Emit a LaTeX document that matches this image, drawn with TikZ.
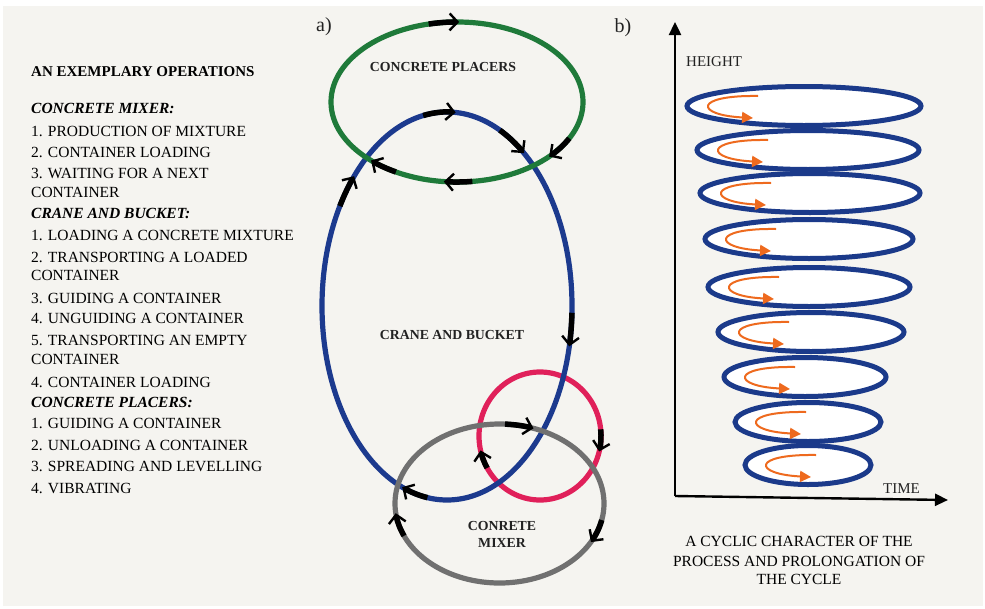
\documentclass[tikz,border=0pt]{standalone}
\usepackage{fontspec}
\setmainfont{Liberation Serif}
\usetikzlibrary{arrows.meta}
\definecolor{bgc}{HTML}{F5F4F0}
\definecolor{greenc}{HTML}{1F7A3A}
\definecolor{bluec}{HTML}{1C3A8E}
\definecolor{redc}{HTML}{E0205A}
\definecolor{grayc}{HTML}{707070}
\definecolor{orangec}{HTML}{EE6A1E}
\definecolor{navy}{HTML}{1B3A8A}
\definecolor{labc}{HTML}{222222}
\begin{document}
\begin{tikzpicture}[x=1pt,y=-1pt,
  listtxt/.style={anchor=base west, inner sep=0pt, font=\fontsize{15.5}{18}\selectfont, text=black},
  listhead/.style={listtxt, font=\fontsize{15.5}{18}\selectfont\bfseries\itshape},
  maintitle/.style={listtxt, font=\fontsize{15}{18}\selectfont\bfseries},
  difflab/.style={anchor=base, inner sep=0pt, font=\fontsize{13.8}{16}\selectfont\bfseries, text=labc},
  axlab/.style={anchor=base west, inner sep=0pt, font=\fontsize{15}{18}\selectfont, text=labc},
  captxt/.style={anchor=base, inner sep=0pt, font=\fontsize{15.5}{18}\selectfont, text=black},
  panel/.style={anchor=center, inner sep=0pt, font=\fontsize{20}{22}\selectfont, text=labc},
  ring/.style={line width=5.2pt},
  arrseg/.style={line width=5.5pt, black, -{Straight Barb[length=8pt,width=17pt,line width=2.4pt]}},
  axisline/.style={line width=2.4pt, black, -{Triangle[length=13pt,width=12pt]}},
  spir/.style={line width=5pt, draw=navy, fill=white},
  hook/.style={orangec, line width=2pt, -{Triangle[length=11pt,width=11pt]}}
]
\useasboundingbox (0,0) rectangle (985,608);
\fill[white] (0,0) rectangle (985,608);
\fill[bgc] (3,6) rectangle (983,606);

% ---------- left list ----------
\node[maintitle] (t0) at (31,76) {AN EXEMPLARY OPERATIONS};
\node[listhead] (h1) at (31,113) {CONCRETE MIXER:};
\node[listtxt] (l1) at (31,136) {1. PRODUCTION OF MIXTURE};
\node[listtxt] (l2) at (31,157) {2. CONTAINER LOADING};
\node[listtxt] (l3) at (31,178) {3. WAITING FOR A NEXT};
\node[listtxt] (l3b) at (31,197) {CONTAINER};
\node[listhead] (h2) at (31,218) {CRANE AND BUCKET:};
\node[listtxt] (l4) at (31,240) {1. LOADING A CONCRETE MIXTURE};
\node[listtxt] (l5) at (31,262) {2. TRANSPORTING A LOADED};
\node[listtxt] (l5b) at (31,280) {CONTAINER};
\node[listtxt] (l6) at (31,303) {3. GUIDING A CONTAINER};
\node[listtxt] (l7) at (31,323) {4. UNGUIDING A CONTAINER};
\node[listtxt] (l8) at (31,345) {5. TRANSPORTING AN EMPTY};
\node[listtxt] (l8b) at (31,364) {CONTAINER};
\node[listtxt] (l9) at (31,387) {4. CONTAINER LOADING};
\node[listhead] (h3) at (31,407) {CONCRETE PLACERS:};
\node[listtxt] (l10) at (31,428) {1. GUIDING A CONTAINER};
\node[listtxt] (l11) at (31,450) {2. UNLOADING A CONTAINER};
\node[listtxt] (l12) at (31,471) {3. SPREADING AND LEVELLING};
\node[listtxt] (l13) at (31,493) {4. VIBRATING};

% ---------- panel a ----------
\node[panel] (pa) at (324,27) {a)};
\draw[ring, redc] (540,436) ellipse[x radius=61, y radius=64];
\draw[ring, bluec] (447,306) ellipse[x radius=125, y radius=194];
\draw[ring, greenc] (457,102) ellipse[x radius=126, y radius=80];
\draw[ring, grayc] (499.5,503.5) ellipse[x radius=104.5, y radius=79.5];

% arrows on green
\draw[arrseg] (457,102) ++(257:126 and 80) arc[start angle=257, end angle=271, x radius=126, y radius=80];
\draw[arrseg] (457,102) ++(27:126 and 80) arc[start angle=27, end angle=43, x radius=126, y radius=80];
\draw[arrseg] (457,102) ++(83:126 and 80) arc[start angle=83, end angle=96, x radius=126, y radius=80];
\draw[arrseg] (457,102) ++(119:126 and 80) arc[start angle=119, end angle=133, x radius=126, y radius=80];
% arrows on blue
\draw[arrseg] (447,306) ++(259:125 and 194) arc[start angle=259, end angle=274, x radius=125, y radius=194];
\draw[arrseg] (447,306) ++(295:125 and 194) arc[start angle=295, end angle=308, x radius=125, y radius=194];
\draw[arrseg] (447,306) ++(2:125 and 194) arc[start angle=2, end angle=12, x radius=125, y radius=194];
\draw[arrseg] (447,306) ++(99:125 and 194) arc[start angle=99, end angle=111, x radius=125, y radius=194];
\draw[arrseg] (447,306) ++(211:125 and 194) arc[start angle=211, end angle=222, x radius=125, y radius=194];
% arrows on red
\draw[arrseg] (540,436) ++(-6:61 and 64) arc[start angle=-6, end angle=14, x radius=61, y radius=64];
\draw[arrseg] (540,436) ++(150:61 and 64) arc[start angle=150, end angle=167, x radius=61, y radius=64];
% arrows on gray
\draw[arrseg] (499.5,503.5) ++(273:104.5 and 79.5) arc[start angle=273, end angle=289, x radius=104.5, y radius=79.5];
\draw[arrseg] (499.5,503.5) ++(12:104.5 and 79.5) arc[start angle=12, end angle=29, x radius=104.5, y radius=79.5];
\draw[arrseg] (499.5,503.5) ++(156:104.5 and 79.5) arc[start angle=156, end angle=173, x radius=104.5, y radius=79.5];

\node[difflab] (cp) at (443,71) {CONCRETE PLACERS};
\node[difflab] (cb) at (452,339) {CRANE AND BUCKET};
\node[difflab] (cm1) at (502,530) {CONRETE};
\node[difflab] (cm2) at (502,547) {MIXER};

% ---------- panel b ----------
\node[panel] (pb) at (623,28) {b)};
\coordinate (org) at (675,496);
\coordinate (ytop) at (675,22);
\coordinate (xend) at (948,500);
\draw[axisline] (org) -- (ytop);
\draw[axisline] (org) -- (xend);

\foreach \cx/\cy/\rx in {808/465/63, 808/422/73, 805/377/81, 811/332/93, 809/287/101, 809/239/104, 810/193/110, 808/150/111, 804/106/117}{
  \pgfmathsetmacro\L{\cx-\rx}
  \draw[spir] (\cx,\cy) ellipse[x radius=\rx, y radius=19.5];
  \draw[hook] (\L+71,\cy-10) .. controls (\L+6,\cy-11) and (\L+8,\cy+9) .. (\L+66,\cy+12);
}

\node[axlab] (hl) at (686,66) {HEIGHT};
\node[axlab] (tl) at (883,493) {TIME};

\node[captxt] (c1) at (799,546) {A CYCLIC CHARACTER OF THE};
\node[captxt] (c2) at (799,566) {PROCESS AND PROLONGATION OF};
\node[captxt] (c3) at (799,584) {THE CYCLE};
\end{tikzpicture}
\end{document}
